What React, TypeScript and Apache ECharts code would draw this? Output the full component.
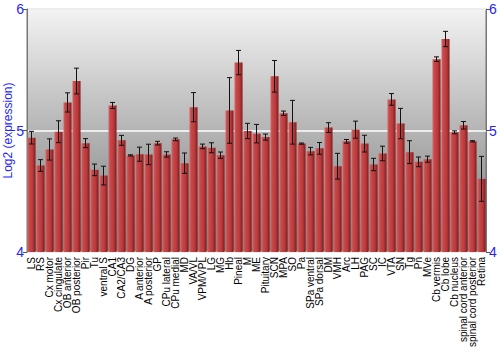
import React, { useEffect, useRef } from "react";
import * as echarts from "echarts";

const categories = [
  "LS", "RS", "Cx motor", "Cx cingulate", "OB anterior", "OB posterior", "Pir", "Tu",
  "ventral S", "CA1", "CA2/CA3", "DG", "A anterior", "A posterior", "GP", "CPu lateral",
  "CPu medial", "MD", "VA/VL", "VPM/VPL", "LG", "MG", "Hb", "Pineal", "M", "ME",
  "Pituitary", "SCN", "MPA", "SO", "Pa", "SPa ventral", "SPa dorsal", "DM", "VMH", "Arc",
  "LH", "PAG", "SC", "IC", "VTA", "SN", "Tg", "Pn", "MVe", "Cb vermis", "Cb lobe",
  "Cb nucleus", "spinal cord anterior", "spinal cord posterior", "Retina",
];

const values = [
  4.941, 4.712, 4.844, 4.99, 5.231, 5.407, 4.896, 4.676,
  4.629, 5.206, 4.919, 4.795, 4.805, 4.803, 4.896, 4.803,
  4.927, 4.731, 5.192, 4.869, 4.858, 4.797, 5.165, 5.559, 4.996, 4.974,
  4.946, 5.446, 5.142, 5.068, 4.892, 4.83, 4.853, 5.024, 4.706, 4.911,
  5.007, 4.892, 4.72, 4.811, 5.256, 5.057, 4.822, 4.742, 4.764, 5.587, 5.753,
  4.985, 5.043, 4.911, 4.602,
];

const errors = [
  0.052, 0.048, 0.087, 0.09, 0.079, 0.106, 0.037, 0.048,
  0.077, 0.025, 0.041, 0.005, 0.058, 0.084, 0.015, 0.022,
  0.011, 0.084, 0.12, 0.019, 0.041, 0.026, 0.27, 0.1, 0.063, 0.076,
  0.025, 0.13, 0.018, 0.18, 0.005, 0.031, 0.048, 0.04, 0.106, 0.015,
  0.07, 0.069, 0.051, 0.06, 0.048, 0.125, 0.094, 0.04, 0.025, 0.019, 0.063,
  0.012, 0.031, 0.005, 0.185,
];

const yTicks = { min: 4, max: 6, interval: 1 };

export default function App() {
  const ref = useRef<HTMLDivElement>(null);

  useEffect(() => {
    if (!ref.current) return;
    const chart = echarts.init(ref.current, null, { renderer: "svg" });
    const blue = "#1f1fff";
    const font = "Liberation Sans, Arial, sans-serif";
    const errData = values.map((v, i) => [i, v - errors[i], v + errors[i]]);

    const yAxisBase = {
      type: "value" as const,
      min: yTicks.min,
      max: yTicks.max,
      interval: yTicks.interval,
      axisLine: { show: true, lineStyle: { color: "#777", width: 1 } },
      axisTick: { show: true, length: 4, lineStyle: { color: "#555" } },
      axisLabel: { color: blue, fontSize: 14, fontFamily: font, margin: 3, hideOverlap: false, showMinLabel: true, showMaxLabel: true },
    };

    chart.setOption({
      animation: false,
      grid: {
        left: 27,
        right: 14,
        top: 9,
        bottom: 98,
        outerBoundsMode: "none",
        containLabel: false,
        show: true,
        borderColor: "#777",
        borderWidth: 1,
        backgroundColor: new echarts.graphic.LinearGradient(0, 0, 0, 1, [
          { offset: 0, color: "#f3f3f3" },
          { offset: 0.5, color: "#b4b4b4" },
          { offset: 1, color: "#7a7a7a" },
        ]),
      },
      xAxis: {
        type: "category",
        data: categories,
        axisLine: { show: false },
        axisTick: { show: false },
        axisLabel: {
          rotate: 90,
          interval: 0,
          color: "#000",
          fontSize: 10,
          fontFamily: font,
          margin: 5,
        },
      },
      yAxis: [
        {
          ...yAxisBase,
          position: "left",
          name: "Log2 (expression)",
          nameLocation: "middle",
          nameGap: 13,
          nameMoveOverlap: false,
          nameTextStyle: { color: blue, fontSize: 12, fontFamily: font },
          splitLine: { show: true, lineStyle: { color: "#ffffff", width: 1.5 } },
        },
        {
          ...yAxisBase,
          position: "right",
          splitLine: { show: false },
        },
      ],
      series: [
        {
          type: "bar",
          data: values,
          barCategoryGap: "10%",
          itemStyle: {
            color: new echarts.graphic.LinearGradient(1, 0, 0, 0, [
              { offset: 0, color: "#7e1a1c" },
              { offset: 0.35, color: "#b8393b" },
              { offset: 0.8, color: "#c94a4b" },
              { offset: 1, color: "#d86a6a" },
            ]),
          },
        },
        {
          type: "custom",
          data: errData,
          z: 10,
          renderItem: (params: any, api: any) => {
            const x = api.value(0);
            const lo = api.coord([x, api.value(1)]);
            const hi = api.coord([x, api.value(2)]);
            const hw = 2.5;
            const style = { stroke: "#111", lineWidth: 1 };
            return {
              type: "group",
              children: [
                { type: "line", shape: { x1: lo[0], y1: lo[1], x2: hi[0], y2: hi[1] }, style },
                { type: "line", shape: { x1: lo[0] - hw, y1: lo[1], x2: lo[0] + hw, y2: lo[1] }, style },
                { type: "line", shape: { x1: hi[0] - hw, y1: hi[1], x2: hi[0] + hw, y2: hi[1] }, style },
              ],
            };
          },
        },
      ],
    });
    return () => chart.dispose();
  }, []);

  return (
    <div
      ref={ref}
      style={{ position: "absolute", left: 0, top: 0, width: 500, height: 350 }}
    />
  );
}
